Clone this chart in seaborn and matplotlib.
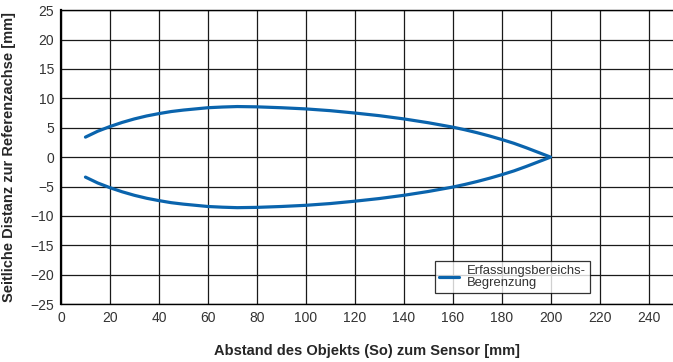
import matplotlib
matplotlib.use("Agg")
import matplotlib.pyplot as plt
import seaborn as sns
import pandas as pd

# upper boundary of the detection range
dist_upper = [10, 12, 15, 20, 25, 30, 35, 40, 45, 50, 55, 60, 66, 72, 80, 90, 100, 110,
              120, 130, 140, 150, 160, 165, 170, 175, 180, 185, 190, 195, 200]
lat_upper = [3.4, 3.8, 4.4, 5.2, 5.9, 6.5, 7.0, 7.4, 7.75, 8.0, 8.2, 8.4, 8.52, 8.6,
             8.55, 8.4, 8.2, 7.9, 7.5, 7.05, 6.5, 5.85, 5.1, 4.65, 4.15, 3.6, 3.0,
             2.35, 1.6, 0.8, 0.0]
# lower boundary is the mirror image
dist_lower = dist_upper[::-1]
lat_lower = [-v for v in lat_upper[::-1]]

x_ticks = list(range(0, 241, 20))
y_ticks = list(range(-25, 26, 5))

df = pd.DataFrame({
    "dist": dist_upper + dist_lower[1:],
    "lat": lat_upper + lat_lower[1:],
    "label": "Erfassungsbereichs-\nBegrenzung",
})

sns.set_style("white")
plt.rcParams['font.family'] = ['Liberation Sans', 'DejaVu Sans']

fig = plt.figure(figsize=(6.73, 3.62), dpi=100)
ax = fig.add_axes([0.0906, 0.160, 0.9094, 0.812])

sns.lineplot(data=df, x="dist", y="lat", hue="label", sort=False,
             estimator=None, palette=["#0a64ad"], linewidth=2.3, ax=ax)

ax.set_xlim(0, 250)
ax.set_ylim(-25, 25)
ax.set_xticks(x_ticks)
ax.set_yticks(y_ticks)
ax.grid(True, color="#1a1a1a", linewidth=0.9)
ax.set_axisbelow(True)
for s in ["left", "bottom", "top"]:
    ax.spines[s].set_color("black")
    ax.spines[s].set_linewidth(1.0)
ax.spines["left"].set_linewidth(1.6)
ax.spines["right"].set_visible(False)
ax.tick_params(axis="both", length=0, labelsize=10, labelcolor="#333333", pad=5)

ax.set_xlabel("Abstand des Objekts (So) zum Sensor [mm]", fontsize=10.5,
              fontweight="bold", labelpad=14)
ax.set_ylabel("Seitliche Distanz zur Referenzachse [mm]", fontsize=10.5,
              fontweight="bold", labelpad=10)

leg = ax.legend(loc="lower left", bbox_to_anchor=(0.611, 0.037), fontsize=9.4,
                frameon=True, fancybox=False, edgecolor="black",
                handlelength=1.5, borderpad=0.35, labelspacing=0.2,
                handletextpad=0.6, borderaxespad=0)
leg.get_frame().set_linewidth(0.9)
for t in leg.get_texts():
    t.set_color("#333333")
    t.set_linespacing(0.95)

fig.savefig("out.png", dpi=100)
